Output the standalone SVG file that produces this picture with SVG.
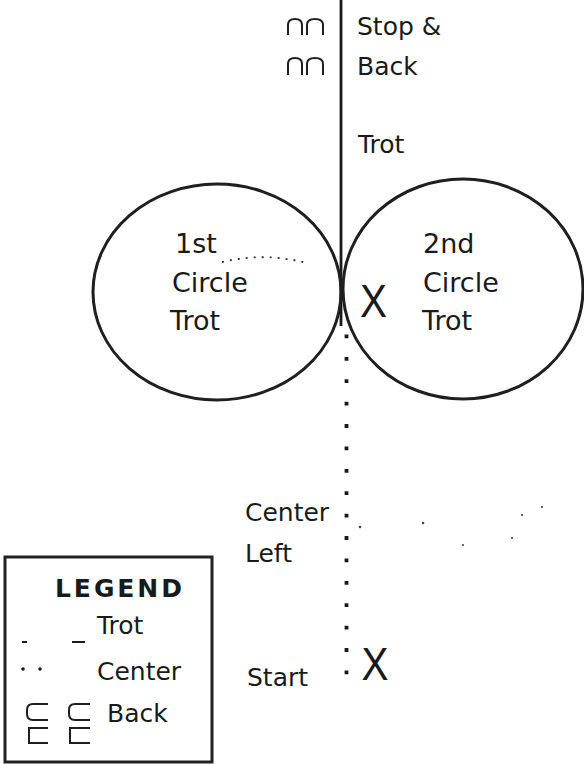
<svg xmlns="http://www.w3.org/2000/svg" width="584" height="764" viewBox="0 0 584 764">
<style>
.t{font-family:"DejaVu Sans","Liberation Sans",sans-serif;font-size:25px;fill:#1a1a1a}
.c{font-size:27px}
.x{font-family:"Liberation Sans",Arial,sans-serif;font-size:46px;fill:#1a1a1a;text-anchor:middle}
.ring{fill:none;stroke:#1f1f1f;stroke-width:3}
.sym{fill:none;stroke:#1f1f1f;stroke-width:2}
</style>
<rect width="584" height="764" fill="#fff"/>
<g id="connectors">
<line x1="341" y1="0" x2="341" y2="326" stroke="#1a1a1a" stroke-width="2.8"/>
<line x1="346.5" y1="334.5" x2="346.5" y2="676" stroke="#1a1a1a" stroke-width="3.8" stroke-dasharray="3.8 18.6"/>
<path d="M222,262 Q265,252 307,263" fill="none" stroke="#333" stroke-width="1.8" stroke-dasharray="2 6"/>
<g fill="#444">
<circle cx="360" cy="527" r="1.3"/>
<circle cx="423" cy="523" r="1.3"/>
<circle cx="463" cy="545" r="1.1"/>
<circle cx="512" cy="538" r="1.1"/>
<circle cx="522" cy="515" r="1.1"/>
<circle cx="542" cy="507" r="1.1"/>
</g>
</g>
<g id="stop-back">
<path class="sym" d="M288,35 V25 Q288,19 295,19 Q302,19 302,25 V35 M307,35 V25 Q307,19 315,19 Q323,19 323,25 V35"/>
<path class="sym" d="M288,75 V64 Q288,58 295,58 Q302,58 302,64 V75 M307,75 V64 Q307,58 315,58 Q323,58 323,64 V75"/>
<text class="t" x="357" y="35">Stop &amp;</text>
<text class="t" x="357" y="75">Back</text>
</g>
<g id="trot-label"><text class="t" x="358" y="153">Trot</text></g>
<g id="circle-1">
<ellipse class="ring" cx="217" cy="292" rx="124" ry="108"/>
<text class="t c" x="175" y="253">1st</text>
<text class="t c" x="172" y="292">Circle</text>
<text class="t c" x="170" y="330">Trot</text>
</g>
<g id="circle-2">
<ellipse class="ring" cx="463" cy="289" rx="120" ry="110"/>
<text class="t c" x="423" y="253">2nd</text>
<text class="t c" x="423" y="292">Circle</text>
<text class="t c" x="422" y="330">Trot</text>
</g>
<g id="x-mid"><text class="x" transform="translate(373.5,317) scale(0.88,1)">X</text></g>
<g id="center-left">
<text class="t" x="245" y="521">Center</text>
<text class="t" x="245" y="562">Left</text>
</g>
<g id="start">
<text class="t" x="247" y="686">Start</text>
<text class="x" transform="translate(375,680) scale(0.88,1)">X</text>
</g>
<g id="legend">
<rect x="5" y="557" width="207" height="205" fill="none" stroke="#222" stroke-width="3"/>
<text class="t" x="55" y="597" font-weight="bold" font-size="23" textLength="127" lengthAdjust="spacing">LEGEND</text>
<path d="M22,642 H27 M72,642 H85" stroke="#1a1a1a" stroke-width="2"/>
<text class="t" x="97" y="634">Trot</text>
<circle cx="23" cy="669" r="1.8" fill="#1a1a1a"/>
<circle cx="40" cy="669" r="1.8" fill="#1a1a1a"/>
<text class="t" x="97" y="680">Center</text>
<path class="sym" d="M48,704 H33 Q27,704 27,710 V714 Q27,720 33,720 H48 M90,704 H75 Q69,704 69,710 V714 Q69,720 75,720 H90"/>
<path class="sym" d="M48,728 H29 V743 H48 M90,728 H70 V743 H90"/>
<text class="t" x="107" y="722">Back</text>
</g>
</svg>
